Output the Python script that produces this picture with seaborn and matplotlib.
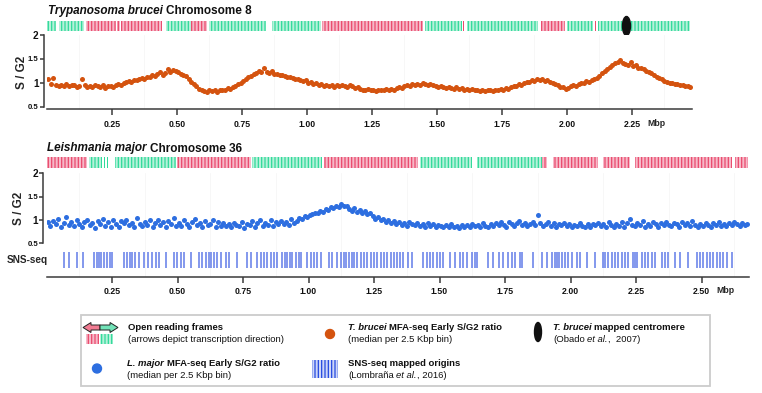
import matplotlib
matplotlib.use("Agg")
import matplotlib.pyplot as plt
from matplotlib.patches import Ellipse, Polygon, Rectangle
import numpy as np
import pandas as pd
import seaborn as sns

# ---------------- data ----------------
bin_mbp = 0.01  # values below read every 10 kbp

# T. brucei chromosome 8, MFA-seq early S/G2
tb_ratio = [
    1.08, 0.97, 1.10, 0.95, 0.93, 0.96, 0.94, 0.97, 0.93, 0.95,
    0.96, 0.92, 0.94, 1.07, 0.95, 0.92, 0.94, 0.91, 0.95, 0.93,
    0.92, 0.95, 0.90, 0.94, 0.93, 0.91, 0.95, 0.97, 0.96, 0.99,
    1.01, 1.03, 1.02, 1.06, 1.05, 1.08, 1.10, 1.09, 1.13, 1.12,
    1.16, 1.15, 1.19, 1.22, 1.17, 1.20, 1.28, 1.23, 1.26, 1.24,
    1.22, 1.19, 1.17, 1.14, 1.08, 1.02, 0.97, 0.93, 0.88, 0.86,
    0.83, 0.80, 0.84, 0.82, 0.85, 0.81, 0.84, 0.86, 0.85, 0.89,
    0.88, 0.92, 0.94, 0.97, 1.00, 1.03, 1.08, 1.12, 1.15, 1.19,
    1.21, 1.25, 1.23, 1.30, 1.22, 1.20, 1.24, 1.19, 1.18, 1.17,
    1.16, 1.14, 1.12, 1.13, 1.10, 1.07, 1.08, 1.05, 1.03, 1.06,
    1.00, 1.02, 0.98, 0.99, 0.96, 0.97, 0.94, 0.96, 0.93, 0.95,
    0.92, 0.95, 0.93, 0.96, 0.94, 0.92, 0.95, 0.93, 0.90, 0.91,
    0.88, 0.86, 0.85, 0.87, 0.84, 0.86, 0.83, 0.85, 0.86, 0.84,
    0.87, 0.85, 0.88, 0.86, 0.89, 0.91, 0.90, 0.93, 0.95, 0.94,
    0.97, 0.95, 0.98, 0.96, 0.99, 0.97, 0.95, 0.98, 0.96, 0.94,
    0.92, 0.94, 0.91, 0.89, 0.92, 0.90, 0.88, 0.91, 0.87, 0.89,
    0.86, 0.88, 0.85, 0.87, 0.84, 0.86, 0.83, 0.85, 0.82, 0.84,
    0.85, 0.83, 0.86, 0.84, 0.87, 0.86, 0.89, 0.88, 0.91, 0.93,
    0.94, 0.97, 0.96, 1.00, 1.02, 1.01, 1.05, 1.04, 1.08, 1.06,
    1.07, 1.04, 1.05, 1.01, 0.99, 0.97, 0.95, 0.92, 0.91, 0.88,
    0.90, 0.93, 0.95, 0.94, 0.97, 1.00, 0.99, 1.03, 1.02, 1.06,
    1.08, 1.11, 1.15, 1.20, 1.24, 1.29, 1.33, 1.38, 1.42, 1.44,
    1.47, 1.42, 1.40, 1.38, 1.43, 1.35, 1.37, 1.32, 1.30, 1.28,
    1.25, 1.23, 1.20, 1.16, 1.12, 1.10, 1.07, 1.04, 1.02, 1.00,
    0.99, 0.97, 0.98, 0.95, 0.96, 0.93, 0.94, 0.92,
]

# L. major chromosome 36, MFA-seq early S/G2
lm_ratio = [
    0.95, 0.88, 0.97, 0.91, 1.02, 0.86, 0.93, 1.06, 0.90, 0.95,
    0.87, 0.99, 0.92, 0.85, 0.96, 1.01, 0.89, 0.94, 0.83, 0.98,
    0.92, 1.03, 0.88, 0.95, 0.86, 0.99, 0.91, 0.84, 0.97, 0.93,
    1.00, 0.89, 0.94, 0.85, 1.04, 0.92, 0.88, 0.96, 0.90, 0.99,
    0.86, 0.93, 1.01, 0.89, 0.95, 0.84, 0.98, 0.92, 1.05, 0.88,
    0.94, 0.87, 0.99, 0.91, 0.85, 0.96, 1.02, 0.90, 0.93, 0.86,
    0.97, 0.89, 0.92, 1.00, 0.84, 0.95, 0.88, 0.93, 0.87, 0.91,
    0.85, 0.94, 0.90, 0.88, 0.96, 0.83, 0.92, 0.89, 0.97, 0.86,
    0.93, 0.99, 0.87, 0.94, 0.90, 1.01, 0.88, 0.95, 0.92, 0.97,
    0.91, 0.96, 0.89, 1.02, 0.94, 0.98, 1.05, 1.03, 1.09, 1.07,
    1.10, 1.12, 1.16, 1.14, 1.20, 1.18, 1.24, 1.22, 1.28, 1.25,
    1.30, 1.27, 1.34, 1.29, 1.31, 1.24, 1.20, 1.26, 1.17, 1.22,
    1.14, 1.19, 1.12, 1.15, 1.08, 1.03, 1.06, 0.99, 1.02, 0.96,
    1.00, 0.94, 0.97, 0.92, 0.95, 0.90, 0.93, 0.88, 0.96, 0.91,
    0.89, 0.93, 0.87, 0.91, 0.86, 0.94, 0.88, 0.92, 0.85, 0.90,
    0.87, 0.84, 0.89, 0.86, 0.91, 0.85, 0.88, 0.83, 0.90, 0.86,
    0.89, 0.85, 0.92, 0.87, 0.90, 0.84, 0.93, 0.88, 0.86, 0.91,
    0.87, 0.94, 0.89, 0.96, 0.90, 0.86, 0.95, 0.91, 0.88, 0.93,
    0.97, 0.90, 0.94, 0.88, 0.92, 0.96, 0.89, 1.10, 0.93, 0.87,
    0.91, 0.95, 0.88, 0.93, 0.86, 0.92, 0.89, 0.94, 0.87, 0.91,
    0.85, 0.90, 0.87, 0.93, 0.88, 0.84, 0.91, 0.86, 0.92, 0.89,
    0.94, 0.87, 0.91, 0.85, 0.96, 0.89, 0.84, 0.92, 0.88, 0.95,
    0.86, 0.93, 1.02, 0.90, 0.87, 0.94, 0.89, 0.97, 0.85, 0.92,
    0.88, 0.95, 0.91, 0.86, 0.93, 0.89, 0.96, 0.90, 0.87, 0.94,
    0.91, 0.86, 0.95, 0.89, 0.93, 0.87, 0.97, 0.90, 0.84, 0.92,
    0.88, 0.94, 0.90, 0.86, 0.93, 0.89, 0.95, 0.87, 0.91, 0.88,
    0.93, 0.89, 0.96, 0.91, 0.87, 0.94, 0.90, 0.92,
]

# ORF clusters (kbp), '+' = green, '-' = red
tb_orf_start = [0, 46, 149, 270, 286, 456, 553, 623, 867, 1059, 1454, 1599, 1614, 1902, 1999, 2106, 2120]
tb_orf_end = [33, 142, 264, 280, 443, 553, 617, 841, 1053, 1447, 1595, 1603, 1889, 1992, 2101, 2110, 2473]
tb_orf_strand = ['+', '+', '-', '-', '-', '+', '-', '+', '+', '-', '+', '-', '+', '-', '+', '-', '+']

lm_orf_start = [0, 162, 219, 232, 245, 262, 499, 786, 1059, 1425, 1642, 1890, 1934, 2125, 2246, 2627]
lm_orf_end = [156, 213, 222, 235, 248, 493, 779, 1053, 1419, 1623, 1890, 1909, 2106, 2227, 2615, 2678]
lm_orf_strand = ['-', '+', '+', '+', '+', '+', '-', '+', '-', '+', '+', '-', '-', '-', '-', '-']

tb_length_mbp = 2.481
lm_length_mbp = 2.681
tb_centromere_mbp = 2.229

# SNS-seq mapped origins on L. major chr36 (Mbp)
sns_origins = [
    0.067, 0.086, 0.115, 0.141, 0.181, 0.192, 0.200, 0.209, 0.219, 0.230, 0.241, 0.251,
    0.296, 0.309, 0.319, 0.328, 0.337, 0.353, 0.372, 0.387, 0.404, 0.417, 0.429, 0.455,
    0.487, 0.499, 0.512, 0.525, 0.550, 0.582, 0.595, 0.608, 0.620, 0.627, 0.639, 0.652,
    0.665, 0.684, 0.697, 0.728, 0.766, 0.779, 0.805, 0.818, 0.830, 0.843, 0.856, 0.868,
    0.881, 0.900, 0.909, 0.919, 0.929, 0.938, 0.951, 0.964, 0.970, 0.996, 1.008, 1.021,
    1.034, 1.046, 1.078, 1.091, 1.110, 1.123, 1.135, 1.142, 1.155, 1.167, 1.174, 1.186,
    1.199, 1.212, 1.225, 1.237, 1.250, 1.263, 1.276, 1.288, 1.301, 1.314, 1.326, 1.339,
    1.349, 1.362, 1.381, 1.394, 1.438, 1.451, 1.464, 1.476, 1.489, 1.502, 1.515, 1.540,
    1.559, 1.578, 1.591, 1.604, 1.623, 1.635, 1.642, 1.686, 1.705, 1.725, 1.744, 1.763,
    1.775, 1.788, 1.807, 1.814, 1.858, 1.890, 1.909, 1.928, 1.941, 1.947, 1.954, 1.966,
    1.979, 1.992, 2.005, 2.024, 2.036, 2.062, 2.094, 2.125, 2.132, 2.144, 2.157, 2.170,
    2.182, 2.195, 2.208, 2.221, 2.240, 2.246, 2.253, 2.272, 2.284, 2.297, 2.310, 2.323,
    2.348, 2.361, 2.373, 2.399, 2.418, 2.450, 2.482, 2.494, 2.507, 2.520, 2.532, 2.545,
    2.558, 2.571, 2.583, 2.596, 2.615,
]

tb_ticks = [0.25, 0.50, 0.75, 1.00, 1.25, 1.50, 1.75, 2.00, 2.25]
lm_ticks = [0.25, 0.50, 0.75, 1.00, 1.25, 1.50, 1.75, 2.00, 2.25, 2.50]

# ---------------- style ----------------
sns.set_theme(style="white")
plt.rcParams['font.family'] = ['Liberation Sans', 'DejaVu Sans']
plt.rcParams['hatch.linewidth'] = 0.9

ORANGE = '#d4530f'
BLUE = '#2d6ee0'
RED, RED_LIGHT = '#ea4a6d', '#f6b9c8'
GREEN, GREEN_LIGHT = '#30da9a', '#b6f1da'
SNS_BLUE = '#2448e0'
SPINE = '#3a3a3a'

W, H = 762, 393
fig = plt.figure(figsize=(W / 100, H / 100), dpi=100)


def fx(px):
    return px / W


def fy(py):
    return 1 - py / H


def axes_px(left, top, right, bottom):
    return fig.add_axes([fx(left), fy(bottom), (right - left) / W, (bottom - top) / H])


def rich(x, y, parts, size):
    # draw text pieces with mixed italic/bold one after another
    r = fig.canvas.get_renderer()
    for s, style, weight in parts:
        if s.startswith(' '):
            x += 0.278 * size * 100 / 72
            s = s.lstrip()
        t = fig.text(fx(x), fy(y), s, fontsize=size, style=style, weight=weight,
                     ha='left', va='center', color='#111111')
        x += t.get_window_extent(r).width


def draw_orf(ax, starts, ends, strands, xmax):
    for s, e, st in zip(starts, ends, strands):
        strong = GREEN if st == '+' else RED
        light = GREEN_LIGHT if st == '+' else RED_LIGHT
        face = strong if e - s < 8 else light
        ax.bar(s / 1000, 1, width=(e - s) / 1000, bottom=0, align='edge',
               facecolor=face, edgecolor=strong, hatch='|||||', linewidth=0)
    ax.set_xlim(0, xmax)
    ax.set_ylim(0, 1)
    ax.axis('off')


def style_scatter(ax, xmax, ylo, ticks, label_pad):
    ax.set_xlim(0, xmax)
    ax.set_ylim(ylo, 2.0)
    ax.set_xlabel('')
    ax.set_ylabel('')
    for side in ['top', 'right']:
        ax.spines[side].set_visible(False)
    for side in ['left', 'bottom']:
        ax.spines[side].set_color(SPINE)
        ax.spines[side].set_linewidth(1.1)
    ax.spines['left'].set_position(('outward', 2.2))
    ax.spines['left'].set_bounds(0.5, 2.0)
    ax.set_xticks(ticks)
    ax.set_xticklabels(['%.2f' % t for t in ticks], fontweight='bold', fontsize=6.3, color='#111111')
    ax.set_xticks([t - 0.125 for t in ticks] + [ticks[-1] + 0.125], minor=True)
    ax.grid(which='minor', axis='x', color='#f7f7f7', lw=0.7)
    ax.grid(which='major', visible=False)
    ax.tick_params(axis='x', which='major', length=4, width=1.1, color=SPINE, pad=label_pad, bottom=True)
    ax.tick_params(axis='x', which='minor', length=0)
    ax.set_yticks([0.5, 1, 1.5, 2])
    ax.set_yticklabels(['0.5', '1', '1.5', '2'], fontweight='bold', color='#111111')
    for lbl, sz in zip(ax.get_yticklabels(), [5.6, 7.2, 5.6, 7.2]):
        lbl.set_fontsize(sz)
    ax.tick_params(axis='y', length=3, width=1.1, color=SPINE, pad=0.8, left=True)


# ---------------- T. brucei panel ----------------
ax1_orf = axes_px(47, 21, 692, 31)
draw_orf(ax1_orf, tb_orf_start, tb_orf_end, tb_orf_strand, tb_length_mbp)
ax1_orf.add_patch(Ellipse((tb_centromere_mbp, 0.5), width=8 / 260, height=1.9,
                          color='#111111', clip_on=False, zorder=5))

ax1 = axes_px(47, 35, 692, 109.3)
tb_df = pd.DataFrame({'pos': np.arange(len(tb_ratio)) * bin_mbp + bin_mbp / 2, 'ratio': tb_ratio})
sns.scatterplot(data=tb_df, x='pos', y='ratio', ax=ax1, color=ORANGE, s=13, linewidth=0, legend=False, zorder=3)
style_scatter(ax1, tb_length_mbp, 0.446, tb_ticks, 3.6)
ax1.annotate('Mbp', xy=(2.25, 0), xycoords=('data', 'axes fraction'), xytext=(11, -10),
             textcoords='offset points', ha='left', va='center', fontweight='bold', fontsize=6.3)

# ---------------- L. major panel ----------------
ax2_orf = axes_px(46.5, 157, 749, 168)
draw_orf(ax2_orf, lm_orf_start, lm_orf_end, lm_orf_strand, lm_length_mbp)

ax2 = axes_px(46.5, 173.3, 749, 277)
lm_df = pd.DataFrame({'pos': np.arange(len(lm_ratio)) * bin_mbp + bin_mbp / 2, 'ratio': lm_ratio})
sns.scatterplot(data=lm_df, x='pos', y='ratio', ax=ax2, color=BLUE, s=13, linewidth=0, legend=False, zorder=3)
ax2.vlines(sns_origins, -0.03, 0.315, color=SNS_BLUE, alpha=0.72, lw=1.1)
style_scatter(ax2, lm_length_mbp, -0.222, lm_ticks, 3.0)
ax2.annotate('Mbp', xy=(2.50, 0), xycoords=('data', 'axes fraction'), xytext=(10.5, -9.4),
             textcoords='offset points', ha='left', va='center', fontweight='bold', fontsize=6.3)

# ---------------- titles and labels ----------------
rich(48, 11, [("Trypanosoma brucei", 'italic', 'bold'), (" Chromosome 8", 'normal', 'bold')], 8.5)
rich(47, 148.5, [("Leishmania major", 'italic', 'bold'), (" Chromosome 36", 'normal', 'bold')], 8.5)
fig.text(fx(22), fy(72), 'S / G2', rotation=90, ha='center', va='center', fontweight='bold', fontsize=8.5)
fig.text(fx(19), fy(208), 'S / G2', rotation=90, ha='center', va='center', fontweight='bold', fontsize=8.5)
fig.text(fx(48), fy(260), 'SNS-seq', ha='right', va='center', fontweight='bold', fontsize=7.2)

# ---------------- legend ----------------
fig.add_artist(Rectangle((fx(81), fy(386)), (710 - 81) / W, (386 - 315) / H, fill=False,
                         edgecolor='#cccccc', lw=1.3, transform=fig.transFigure))


def poly_px(points, **kw):
    fig.add_artist(Polygon([(fx(a), fy(b)) for a, b in points], closed=True,
                           transform=fig.transFigure, **kw))


poly_px([(83, 327.5), (91, 322.5), (91, 325), (100, 325), (100, 330), (91, 330), (91, 332.5)],
        facecolor='#f17b92', edgecolor='#222222', lw=0.7)
poly_px([(118, 327.5), (110, 322.5), (110, 325), (100, 325), (100, 330), (110, 330), (110, 332.5)],
        facecolor='#72e3b8', edgecolor='#222222', lw=0.7)
fig.add_artist(Rectangle((fx(86), fy(344)), 13 / W, 10 / H, facecolor=RED_LIGHT, edgecolor=RED,
                         hatch='|||||', lw=0, transform=fig.transFigure))
fig.add_artist(Rectangle((fx(100), fy(344)), 13 / W, 10 / H, facecolor=GREEN_LIGHT, edgecolor=GREEN,
                         hatch='|||||', lw=0, transform=fig.transFigure))
fig.add_artist(Ellipse((fx(330), fy(334)), 9 / W, 9 / H, color=ORANGE, transform=fig.transFigure))
fig.add_artist(Ellipse((fx(538), fy(332)), 7 / W, 19 / H, color='#111111', transform=fig.transFigure))
fig.add_artist(Ellipse((fx(97), fy(368.5)), 9 / W, 9 / H, color=BLUE, transform=fig.transFigure))
fig.add_artist(Rectangle((fx(312), fy(378)), 26 / W, 18 / H, facecolor='#cdd6f8', edgecolor=SNS_BLUE,
                         hatch='|||||', lw=0, transform=fig.transFigure))

LS = 6.8
rich(128, 328, [("Open reading frames", 'normal', 'bold')], LS)
rich(128, 339.5, [("(arrows depict transcription direction)", 'normal', 'normal')], LS)
rich(348, 328, [("T. brucei", 'italic', 'bold'), (" MFA-seq Early S/G2 ratio", 'normal', 'bold')], LS)
rich(348, 339.5, [("(median per 2.5 Kbp bin)", 'normal', 'normal')], LS)
rich(553, 328, [("T. brucei", 'italic', 'bold'), (" mapped centromere", 'normal', 'bold')], LS)
rich(553, 339.5, [("(Obado", 'normal', 'normal'), (" et al.", 'italic', 'normal'), (",  2007)", 'normal', 'normal')], LS)
rich(127, 363.5, [("L. major", 'italic', 'bold'), (" MFA-seq Early S/G2 ratio", 'normal', 'bold')], LS)
rich(127, 376, [("(median per 2.5 Kbp bin)", 'normal', 'normal')], LS)
rich(348, 363.5, [("SNS-seq mapped origins", 'normal', 'bold')], LS)
rich(348, 376, [("(Lombraña", 'normal', 'normal'), (" et al.", 'italic', 'normal'), (", 2016)", 'normal', 'normal')], LS)

fig.savefig('out.png', dpi=100)
